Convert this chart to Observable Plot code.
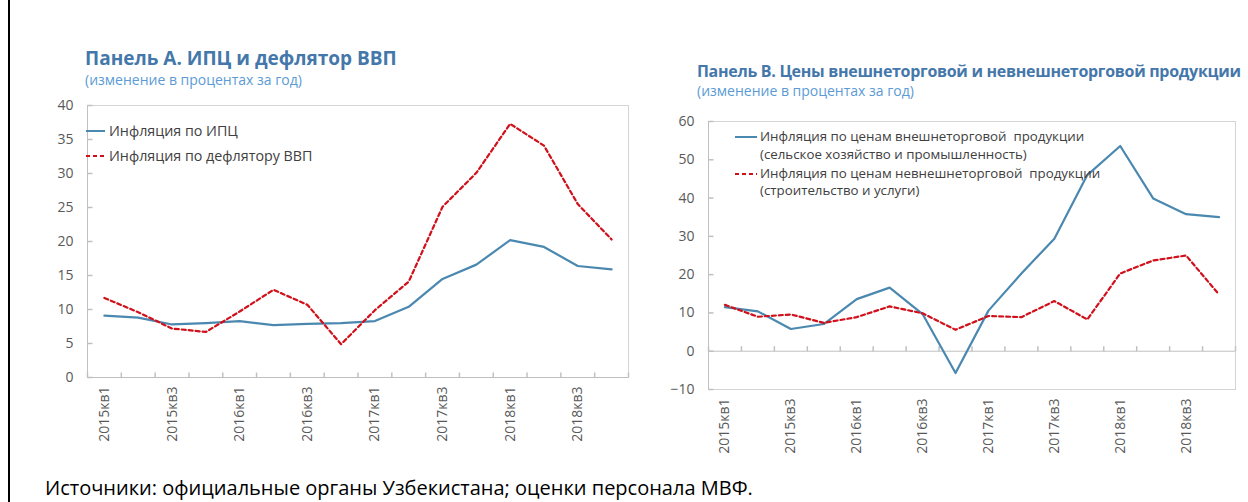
<!DOCTYPE html>
<html><head><meta charset="utf-8">
<script src="https://cdn.jsdelivr.net/npm/d3@7"></script>
<script src="https://cdn.jsdelivr.net/npm/@observablehq/plot@0.6"></script>
<style>
body{margin:0;background:#fff;font-family:"Open Sans",sans-serif;}
#root{position:relative;width:1248px;height:502px;overflow:hidden;background:#fff;}
.abs{position:absolute;white-space:nowrap;line-height:1;}
.title{font-weight:700;color:#4477aa;}
.sub{color:#5b9bd5;}
.leg{color:#404040;}
.plot{position:absolute;}
</style></head><body><div id="root">
<div class="abs" style="left:8px;top:0;width:1.5px;height:502px;background:#000"></div>
<div class="abs title" style="left:85px;top:49px;font-size:19px">Панель А. ИПЦ и дефлятор ВВП</div>
<div class="abs sub" style="left:85px;top:73px;font-size:14px">(изменение в процентах за год)</div>
<div class="abs title" style="left:697px;top:63px;font-size:16px;letter-spacing:-0.3px">Панель В. Цены внешнеторговой и невнешнеторговой продукции</div>
<div class="abs sub" style="left:697px;top:84px;font-size:14px">(изменение в процентах за год)</div>
<div id="plotA" class="plot" style="left:40px;top:95px"></div>
<div id="plotB" class="plot" style="left:660px;top:111px"></div>
<svg class="abs" style="left:0;top:0" width="1248" height="502">
  <line x1="86" x2="105" y1="131" y2="131" stroke="#4a88b0" stroke-width="2"/>
  <line x1="86" x2="105" y1="156" y2="156" stroke="#d0101a" stroke-width="2" stroke-dasharray="4,3"/>
  <line x1="735" x2="757" y1="137" y2="137" stroke="#4a88b0" stroke-width="2"/>
  <line x1="735" x2="757" y1="174" y2="174" stroke="#d0101a" stroke-width="2" stroke-dasharray="4,3"/>
</svg>
<div class="abs leg" style="left:109px;top:124px;font-size:14.3px">Инфляция по ИПЦ</div>
<div class="abs leg" style="left:109px;top:149px;font-size:14.3px">Инфляция по дефлятору ВВП</div>
<div class="abs leg" style="left:760px;top:130px;font-size:13.3px">Инфляция по ценам внешнеторговой&nbsp; продукции</div>
<div class="abs leg" style="left:760px;top:148px;font-size:13.3px">(сельское хозяйство и промышленность)</div>
<div class="abs leg" style="left:760px;top:167px;font-size:13.3px">Инфляция по ценам невнешнеторговой&nbsp; продукции</div>
<div class="abs leg" style="left:760px;top:184px;font-size:13.3px">(строительство и услуги)</div>
<div class="abs" style="left:45px;top:478px;font-size:20px;color:#000">Источники: официальные органы Узбекистана; оценки персонала МВФ.</div>
</div>
<script>
const quarters = ["2015кв1","2015кв2","2015кв3","2015кв4","2016кв1","2016кв2","2016кв3","2016кв4",
                  "2017кв1","2017кв2","2017кв3","2017кв4","2018кв1","2018кв2","2018кв3","2018кв4"];
const cpi = [9.1, 8.8, 7.8, 8.0, 8.3, 7.7, 7.9, 8.0, 8.3, 10.4, 14.5, 16.6, 20.2, 19.2, 16.4, 15.9];
const deflator = [11.7, 9.6, 7.2, 6.7, 9.7, 12.9, 10.7, 4.9, 9.9, 14.1, 25.1, 30.1, 37.3, 34.1, 25.5, 20.3];
const tradable = [11.5, 10.4, 5.8, 7.1, 13.6, 16.6, 9.7, -5.7, 10.6, 20.3, 29.4, 46.0, 53.6, 39.9, 35.8, 35.0];
const nontradable = [12.1, 9.0, 9.6, 7.4, 8.9, 11.7, 9.9, 5.6, 9.2, 8.9, 13.1, 8.3, 20.3, 23.7, 25.0, 14.8];
const yTicksA = [0, 5, 10, 15, 20, 25, 30, 35, 40];
const yTicksB = [-10, 0, 10, 20, 30, 40, 50, 60];

const BLUE = "#4a88b0", RED = "#d0101a", GRID = "#d4d4d4", TXT = "#595959";
const tickUp = {draw(ctx) { ctx.moveTo(0, 0); ctx.lineTo(0, -5); }};
const tickRight = {draw(ctx) { ctx.moveTo(0, 0); ctx.lineTo(5, 0); }};

function rows(values) { return values.map((v, i) => ({pos: i + 0.5, value: v})); }

function panel({solid, dashed, yDomain, yTicks, baseline, width, height, marginLeft, marginBottom}) {
  const boundaries = d3.range(quarters.length + 1);
  const labelPos = quarters.map((q, i) => i + 0.5).filter((d, i) => i % 2 === 0);
  return Plot.plot({
    width, height, marginLeft, marginRight: 10, marginTop: 10, marginBottom,
    x: {domain: [0, quarters.length]},
    y: {domain: yDomain},
    style: {fontFamily: "Open Sans", background: "transparent", color: TXT},
    marks: [
      Plot.frame({stroke: GRID}),
      Plot.ruleY([baseline], {stroke: "#c0c0c0"}),
      Plot.ruleX([0], {stroke: "#c0c0c0"}),
      Plot.dot(boundaries, {x: d => d, y: () => baseline, symbol: tickUp, stroke: "#c0c0c0", r: 3}),
      Plot.dot(yTicks, {x: () => 0, y: d => d, symbol: tickRight, stroke: "#c0c0c0", r: 3}),
      Plot.axisY(yTicks, {tickSize: 0, tickPadding: 14, fontSize: 14, fill: TXT, label: null}),
      Plot.axisX(labelPos, {tickSize: 0, tickPadding: 9, tickRotate: -90, fontSize: 14, fill: TXT,
        tickFormat: d => quarters[d - 0.5], label: null}),
      Plot.line(rows(solid), {x: "pos", y: "value", stroke: BLUE, strokeWidth: 2.2}),
      Plot.line(rows(dashed), {x: "pos", y: "value", stroke: RED, strokeWidth: 2.2, strokeDasharray: "4,3"})
    ]
  });
}

document.getElementById("plotA").append(panel({
  solid: cpi, dashed: deflator, yDomain: [0, 40], yTicks: yTicksA, baseline: 0,
  width: 598, height: 350, marginLeft: 47, marginBottom: 68
}));
document.getElementById("plotB").append(panel({
  solid: tradable, dashed: nontradable, yDomain: [-10, 60], yTicks: yTicksB, baseline: 0,
  width: 585, height: 343, marginLeft: 48, marginBottom: 65
}));
</script>
</body></html>
